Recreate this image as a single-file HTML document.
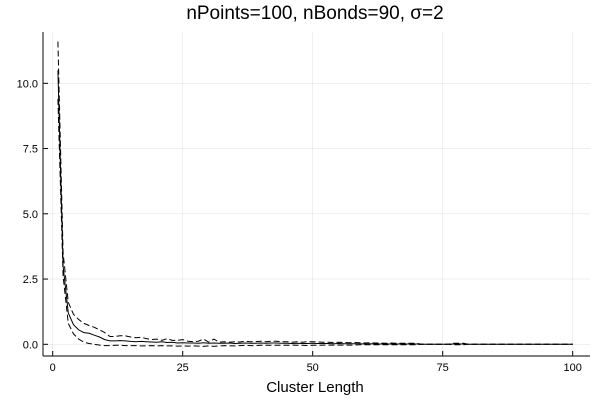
<!DOCTYPE html>
<html><head><meta charset="utf-8"><style>
body{margin:0;background:#fff}
svg{display:block;font-family:"Liberation Sans","DejaVu Sans",sans-serif}
</style></head><body>
<svg id="chart" width="600" height="400" viewBox="0 0 600 400">
<text x="315" y="19" font-size="19" text-anchor="middle">nPoints=100, nBonds=90, σ=2</text>
<text x="315" y="392" font-size="15" text-anchor="middle">Cluster Length</text>
<g id="grid"></g><g id="axes"></g><g id="series"></g>
</svg>
<script>
const xTicks=[0,25,50,75,100];
const yTicks=[0,2.5,5,7.5,10];
const yTickLabels=["0.0","2.5","5.0","7.5","10.0"];
const meanVals=[10.5,3.0,1.2,0.75,0.55,0.45,0.42,0.35,0.28,0.18,0.13,0.13,0.14,0.13,0.11,0.1,0.11,0.1,0.09,0.08,0.1,0.07,0.08,0.05,0.06,0.05,0.05,0.04,0.06,0.04,0.05,0.04,0.04,0.05,0.03,0.04,0.05,0.04,0.04,0.05,0.04,0.05,0.05,0.04,0.04,0.03,0.04,0.03,0.03,0.04,0.03,0.03,0.03,0.02,0.03,0.02,0.02,0.02,0.02,0.01,0.02,0.01,0.01,0.01,0.01,0.01,0.01,0.01,0.01,0.01,0,0,0,0,0,0,0.01,0.01,0.01,0,0,0,0,0,0,0,0,0,0,0,0,0,0,0,0,0,0,0,0,0];
const upperVals=[11.6,3.5,1.6,1.15,0.95,0.8,0.72,0.65,0.55,0.45,0.3,0.3,0.33,0.32,0.28,0.25,0.27,0.22,0.18,0.2,0.15,0.22,0.15,0.15,0.18,0.12,0.1,0.12,0.2,0.08,0.2,0.08,0.1,0.08,0.1,0.09,0.12,0.1,0.1,0.12,0.1,0.12,0.12,0.1,0.1,0.08,0.1,0.08,0.1,0.1,0.09,0.08,0.08,0.07,0.08,0.07,0.06,0.07,0.06,0.05,0.06,0.05,0.05,0.04,0.05,0.04,0.04,0.04,0.04,0.04,0,0,0,0,0,0,0.04,0.04,0.04,0,0,0,0,0,0,0,0,0,0,0,0,0,0,0,0,0,0,0,0,0];
const lowerVals=[9.4,2.6,0.8,0.4,0.2,0.08,0.03,0.0,-0.03,-0.05,-0.05,-0.04,-0.04,-0.05,-0.05,-0.05,-0.06,-0.06,-0.05,-0.06,-0.05,-0.06,-0.06,-0.07,-0.06,-0.07,-0.06,-0.07,-0.08,-0.06,-0.08,-0.06,-0.05,-0.06,-0.06,-0.05,-0.04,-0.05,-0.05,-0.04,-0.04,-0.04,-0.04,-0.04,-0.04,-0.03,-0.04,-0.04,-0.05,-0.04,-0.04,-0.03,-0.03,-0.03,-0.03,-0.03,-0.03,-0.03,-0.02,-0.02,-0.02,-0.02,-0.02,-0.02,-0.02,-0.02,-0.02,-0.02,-0.02,-0.02,0,0,0,0,0,0,-0.02,-0.02,-0.02,0,0,0,0,0,0,0,0,0,0,0,0,0,0,0,0,0,0,0,0,0];

const NS="http://www.w3.org/2000/svg";
const X0=43,X1=590,Y0=32,Y1=356;
const xs=v=>52.7+v*5.2;
const ys=v=>344.3-v*26.1;
function mk(tag,attrs,parent){const e=document.createElementNS(NS,tag);for(const k in attrs)e.setAttribute(k,attrs[k]);parent.appendChild(e);return e;}
const grid=document.getElementById('grid'),axes=document.getElementById('axes'),ser=document.getElementById('series');
xTicks.forEach(t=>{
  const g=mk('line',{x1:xs(t),x2:xs(t),y1:Y0,y2:Y1,stroke:'#000','stroke-opacity':0.1,'stroke-width':0.6},grid);
  
  
  const tk=mk('line',{x1:xs(t),x2:xs(t),y1:Y1,y2:Y1-5,stroke:'#000','stroke-width':1},axes);
  
  
  const tl=mk('text',{x:xs(t),y:371,'font-size':11,'text-anchor':'middle'},axes);tl.textContent=t;
  
  
});
yTicks.forEach((t,i)=>{
  const g=mk('line',{x1:X0,x2:X1,y1:ys(t),y2:ys(t),stroke:'#000','stroke-opacity':0.1,'stroke-width':0.6},grid);
  
  
  const tk=mk('line',{x1:X0,x2:X0+5,y1:ys(t),y2:ys(t),stroke:'#000','stroke-width':1},axes);
  
  
  const tl=mk('text',{x:X0-5,y:ys(t)+4,'font-size':11,'text-anchor':'end'},axes);tl.textContent=yTickLabels[i];
  
  
});
const xa=mk('line',{x1:X0,x2:X1,y1:Y1,y2:Y1,stroke:'#333','stroke-width':1.2},axes);


const ya=mk('line',{x1:X0,x2:X0,y1:Y0,y2:Y1,stroke:'#333','stroke-width':1.2},axes);


function pts(arr){return arr.map((v,i)=>xs(i+1).toFixed(1)+','+ys(v).toFixed(1)).join(' ');}
const up=mk('polyline',{points:pts(upperVals),fill:'none',stroke:'#000','stroke-width':1,'stroke-dasharray':'6,3'},ser);


const lo=mk('polyline',{points:pts(lowerVals),fill:'none',stroke:'#000','stroke-width':1,'stroke-dasharray':'6,3'},ser);


const mn=mk('polyline',{points:pts(meanVals),fill:'none',stroke:'#000','stroke-width':1},ser);


</script>
</body></html>
